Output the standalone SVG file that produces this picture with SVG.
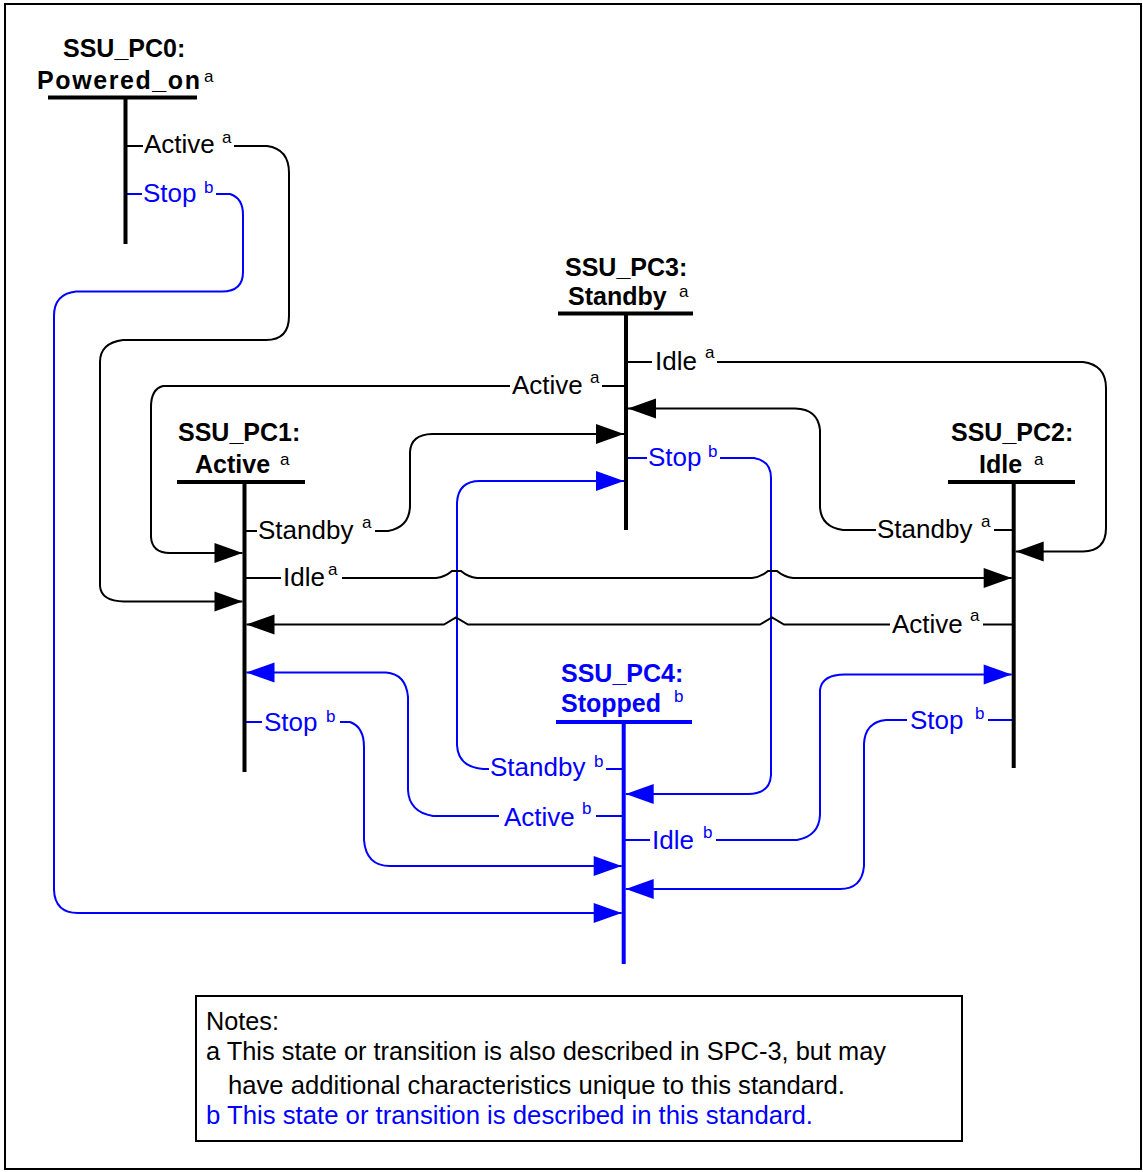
<svg xmlns="http://www.w3.org/2000/svg" width="1143" height="1172" viewBox="0 0 1143 1172">
<defs>
<style>
text{font-family:"Liberation Sans",Arial,sans-serif;font-size:26px;fill:#000}
.t{font-weight:bold;font-size:25px}
.s{font-size:17px}
.n{font-size:25px}
.bl{fill:#0000FF}
.st{stroke:#000;stroke-width:4;fill:none}
.stb{stroke:#0000FF;stroke-width:4;fill:none}
.c{stroke:#000;stroke-width:2;fill:none}
.cb{stroke:#0000FF;stroke-width:2;fill:none}
.ca{marker-end:url(#ak)}
.cba{marker-end:url(#ab)}
</style>
<marker id="ak" markerUnits="userSpaceOnUse" markerWidth="30" markerHeight="22" refX="28" refY="10" orient="auto" overflow="visible"><path d="M0,0 L28,10 L0,20 z" fill="#000"/></marker>
<marker id="ab" markerUnits="userSpaceOnUse" markerWidth="30" markerHeight="22" refX="28" refY="10" orient="auto" overflow="visible"><path d="M0,0 L28,10 L0,20 z" fill="#0000FF"/></marker>
</defs>
<rect x="5" y="4" width="1136" height="1165" fill="#fff" stroke="#000" stroke-width="2"/>

<g id="connectors">
<!-- PC0 Active -> PC1 -->
<path class="c" d="M126,146 H143"/>
<path class="c ca" d="M234,146 H267 Q289,149 289,173 V316 Q289,340 266,340 H123 Q100,343 100,362 V586 Q101,601 124,601.5 H242.5"/>
<!-- PC0 Stop -> PC4 -->
<path class="cb" d="M126,194 H142"/>
<path class="cb cba" d="M216,194 H230 Q243,198 243,215 V272 Q243,291.5 222,291.5 H76 Q54,294 54,316 V890 Q55,913 78,913 H621.7"/>
<!-- PC3 Idle -> PC2 -->
<path class="c" d="M627,362 H652"/>
<path class="c ca" d="M717,362 H1083 Q1106,365 1106,388 V528 Q1106,551 1083,551.5 H1015.7"/>
<!-- PC3 Active -> PC1 -->
<path class="c" d="M602,386 H625"/>
<path class="c ca" d="M510,386 H163 Q151,389 151,407 V537 Q152,553 170,553 H242.5"/>
<!-- PC2 Standby -> PC3 -->
<path class="c" d="M994,530 H1012"/>
<path class="c ca" d="M876,530 H843 Q821,527 820,507 V430 Q818,409 795,408.5 H628"/>
<!-- PC1 Standby -> PC3 -->
<path class="c" d="M245,531 H257"/>
<path class="c ca" d="M375,531 H388 Q410,527 410,505 V452 Q411,434.5 432,434 H624"/>
<!-- PC4 Standby -> PC3 -->
<path class="cb" d="M606,769 H623"/>
<path class="cb cba" d="M489,769 H483 Q458,767 457,745 V503 Q458,481 480,481 H624"/>
<!-- PC3 Stop -> PC4 -->
<path class="cb" d="M627,458 H647"/>
<path class="cb cba" d="M720,458 H754 Q771,461 771,478 V775 Q770,794 748,794 H625.7"/>
<!-- PC1 Idle -> PC2 -->
<path class="c" d="M245,578 H281"/>
<path class="c ca" d="M342,578 H436 Q445,577 452,571 H461 Q468,577 477,578 H752 Q761,577 768,571 H777 Q784,577 793,578 H1011.7"/>
<!-- PC2 Active -> PC1 -->
<path class="c" d="M983,624.5 H1012"/>
<path class="c ca" d="M890,624.5 H784 L772,617.5 L760,624.5 H468 L456,617.5 L444,624.5 H246.5"/>
<!-- PC4 Active -> PC1 -->
<path class="cb" d="M596,816 H623"/>
<path class="cb cba" d="M499,816 H433 Q409,812 408,790 V697 Q406,674 386,672.5 H246.5"/>
<!-- PC1 Stop -> PC4 -->
<path class="cb" d="M245,722 H262"/>
<path class="cb cba" d="M340,722 H350 Q364,727 364,747 V840 Q366,866 390,866 H621.7"/>
<!-- PC4 Idle -> PC2 -->
<path class="cb" d="M625,840 H650"/>
<path class="cb cba" d="M716,840 H797 Q819,836 820,815 V690 Q822,674.5 845,674.5 H1011.7"/>
<!-- PC2 Stop -> PC4 -->
<path class="cb" d="M988,720 H1013"/>
<path class="cb cba" d="M907,720 H886 Q865,722 864,744 V866 Q862,889 840,889 H625.7"/>
</g>

<g id="label-texts">
<text x="144" y="153">Active</text><text class="s" x="222" y="143">a</text>
<text class="bl" x="143" y="202">Stop</text><text class="s bl" x="204" y="193">b</text>
<text x="655" y="370">Idle</text><text class="s" x="705" y="358">a</text>
<text x="512" y="394">Active</text><text class="s" x="590" y="383">a</text>
<text class="bl" x="648" y="466">Stop</text><text class="s bl" x="708" y="457">b</text>
<text x="258" y="539">Standby</text><text class="s" x="362" y="528">a</text>
<text x="283" y="586">Idle</text><text class="s" x="328" y="575">a</text>
<text x="877" y="538">Standby</text><text class="s" x="981" y="527">a</text>
<text x="892" y="633">Active</text><text class="s" x="970" y="621">a</text>
<text class="bl" x="264" y="731">Stop</text><text class="s bl" x="326" y="722">b</text>
<text class="bl" x="910" y="729">Stop</text><text class="s bl" x="975" y="719">b</text>
<text class="bl" x="490" y="776">Standby</text><text class="s bl" x="594" y="767">b</text>
<text class="bl" x="504" y="826">Active</text><text class="s bl" x="582" y="814">b</text>
<text class="bl" x="652" y="849">Idle</text><text class="s bl" x="703" y="838">b</text>
</g>

<g id="SSU_PC0">
<text class="t" x="63" y="57">SSU_PC0:</text>
<text class="t" x="37" y="89" textLength="163">Powered_on</text><text class="s" x="204" y="82">a</text>
<line class="st" x1="48" y1="97.5" x2="197" y2="97.5"/>
<line class="st" x1="125.5" y1="97.5" x2="125.5" y2="244"/>
</g>

<g id="SSU_PC3">
<text class="t" x="565" y="276">SSU_PC3:</text>
<text class="t" x="568" y="305">Standby</text><text class="s" x="679" y="297">a</text>
<line class="st" x1="558" y1="313.5" x2="693" y2="313.5"/>
<line class="st" x1="626" y1="313.5" x2="626" y2="530"/>
</g>

<g id="SSU_PC1">
<text class="t" x="178" y="441">SSU_PC1:</text>
<text class="t" x="195" y="473">Active</text><text class="s" x="280" y="465">a</text>
<line class="st" x1="177" y1="482" x2="305" y2="482"/>
<line class="st" x1="244.5" y1="482" x2="244.5" y2="772"/>
</g>

<g id="SSU_PC2">
<text class="t" x="951" y="441">SSU_PC2:</text>
<text class="t" x="979" y="473">Idle</text><text class="s" x="1034" y="465">a</text>
<line class="st" x1="948" y1="482" x2="1075" y2="482"/>
<line class="st" x1="1013.7" y1="482" x2="1013.7" y2="768"/>
</g>

<g id="SSU_PC4">
<text class="t bl" x="561" y="682">SSU_PC4:</text>
<text class="t bl" x="561" y="712">Stopped</text><text class="s bl" x="674" y="702">b</text>
<line class="stb" x1="556" y1="722" x2="692" y2="722"/>
<line class="stb" x1="623.7" y1="722" x2="623.7" y2="964"/>
</g>

<g id="notes">
<rect x="196" y="996" width="766" height="145" fill="none" stroke="#000" stroke-width="2"/>
<text class="n" x="206" y="1030" textLength="73" lengthAdjust="spacingAndGlyphs">Notes:</text>
<text class="n" x="206" y="1060" textLength="680" lengthAdjust="spacingAndGlyphs">a This state or transition is also described in SPC-3, but may</text>
<text class="n" x="228" y="1094" textLength="617" lengthAdjust="spacingAndGlyphs">have additional characteristics unique to this standard.</text>
<text class="n bl" x="206" y="1124" textLength="607" lengthAdjust="spacingAndGlyphs">b This state or transition is described in this standard.</text>
</g>
</svg>
